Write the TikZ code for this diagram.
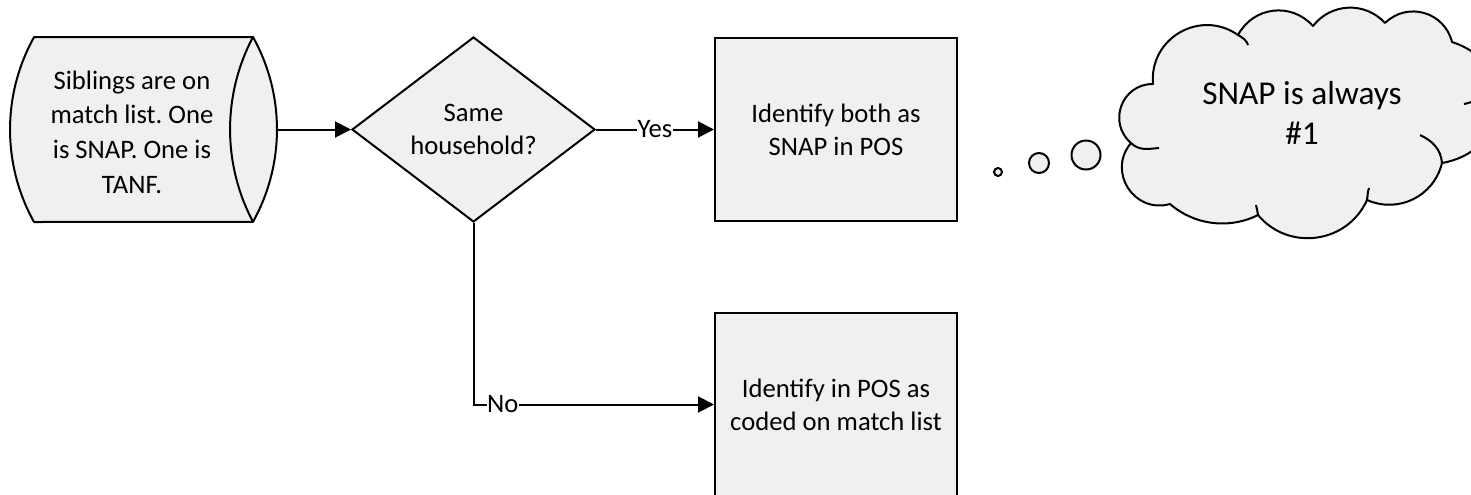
\documentclass[tikz,border=0pt]{standalone}
\usepackage{fontspec}
\setmainfont{Carlito}
\usetikzlibrary{arrows.meta,shapes.geometric}
\definecolor{shapefill}{RGB}{240,240,240}
\frenchspacing
\begin{document}
\begin{tikzpicture}[x=0.75pt,y=0.75pt,line width=1.5pt,
  txt/.style={font=\fontsize{20pt}{25pt}\selectfont,align=center},
  arr/.style={-{Triangle[length=12pt,width=12pt]}},
  procbox/.style={draw,fill=shapefill,minimum width=181.5pt,minimum height=137.25pt,inner sep=0pt,txt},
  decision/.style={draw,fill=shapefill,diamond,minimum width=182.25pt,minimum height=138.75pt,inner sep=0pt},
  lbl/.style={fill=white,inner sep=0.5pt,txt},
  shapeline/.style={draw,fill=shapefill,line join=round},
]
\useasboundingbox (0,0) rectangle (1471,-494);
\begin{scope}
\clip (0,0) rectangle (1471,-494);

% stored data shape
\filldraw[shapeline] (34,-37) -- (253,-37) arc[start angle=29.1, end angle=-29.1, radius=190]
  -- (34,-222) arc[start angle=209.1, end angle=150.9, radius=190] -- cycle;
\draw (253,-37) arc[start angle=152.1, end angle=207.9, radius=197.5];
\coordinate (srcR) at (277,-129.5);
\node[txt,font=\fontsize{20pt}{26pt}\selectfont] (srctext) at (132,-132) {Siblings are on\\match list. One\\is SNAP. One is\\TANF.};

% decision
\node[decision] (dec) at (473.5,-129.5) {};
\node[txt] (dectext) at (dec.center) {Same\\household?};

% process boxes
\node[procbox] (box1) at (836,-129.5) {Identify both as\\SNAP in POS};
\node[procbox] (box2) at (836,-404.5) {Identify in POS as\\coded on match list};

% connectors
\draw[arr] (srcR) -- (dec.west);
\draw[arr] (dec.east) -- node[lbl] (yes) {Yes} (box1.west);
\draw[arr] (dec.south) |- node[lbl,pos=0.561] (no) {No} (box2.west);

% thought bubbles
\filldraw[shapeline] (998,-172) circle[radius=4];
\filldraw[shapeline] (1039,-163) circle[radius=10];
\filldraw[shapeline] (1086,-155) circle[radius=14.5];

% cloud
\coordinate (P1) at (1153,-84);
\coordinate (Q1) at (1238,-35);
\coordinate (Q2) at (1313,-26);
\coordinate (Q3) at (1385,-23);
\coordinate (P8) at (1452,-42);
\coordinate (R)  at (1500,-105);
\coordinate (P6) at (1442,-163);
\coordinate (P5) at (1367,-200);
\coordinate (P4) at (1258,-215);
\coordinate (P3) at (1170,-204);
\coordinate (P2) at (1131,-143);
\filldraw[shapeline]
 (P1) to[bend left=65,looseness=1.2] (Q1)
 to[bend left=55,looseness=1.1] (Q2)
 to[bend left=50,looseness=1.04] (Q3)
 to[bend left=60,looseness=1.15] (P8)
 to[bend left=35] (R)
 to[bend left=35] (P6)
 to[bend left=50,looseness=1.05] (P5)
 to[bend left=58,looseness=1.11] (P4)
 to[bend left=34,looseness=0.93] (P3)
 to[bend left=73,looseness=1.32] (P2)
 to[bend left=70,looseness=1.27] (P1) -- cycle;
% creases
\draw (Q1) to[out=-30,in=110] (1248,-45);
\draw (P2) to[out=-45,in=185] (1159,-148);
\draw (P4) to[out=95,in=-80] (1256,-205);
\draw (P5) to[out=80,in=-110] (1369,-188);
\draw (P6) to[out=95,in=-25] (1420,-135);
\draw (1480,-95) to[bend left=20] (1464,-104);
\node[txt,font=\fontsize{25pt}{29.5pt}\selectfont] (cloudtext) at (1302,-113) {SNAP is always\\\#1};
\end{scope}
\end{tikzpicture}
\end{document}
